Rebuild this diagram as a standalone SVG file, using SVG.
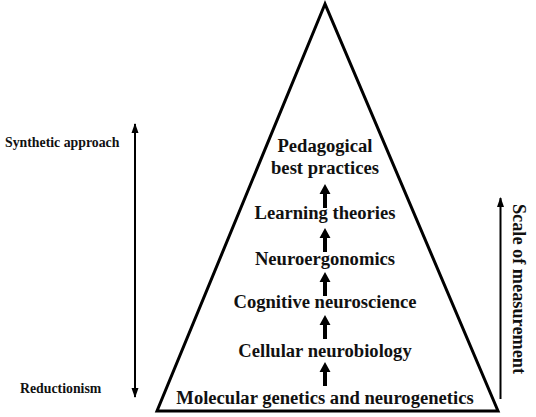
<svg xmlns="http://www.w3.org/2000/svg" width="536" height="417" viewBox="0 0 536 417">
<style>
.lbl{font-family:"Liberation Serif","DejaVu Serif",serif;font-weight:bold;fill:#111;text-anchor:middle;font-size:18.6px}
.side{font-family:"Liberation Serif","DejaVu Serif",serif;font-weight:bold;fill:#111;font-size:13.8px}
.thin{stroke:#000;stroke-width:2;fill:none}
.fat{fill:#000}
</style>
<defs>
<marker id="ah" viewBox="0 0 10 10" refX="9" refY="5" markerWidth="5" markerHeight="5" orient="auto-start-reverse" markerUnits="strokeWidth">
<path d="M0,1.5 L10,5 L0,8.5 z" fill="#000"/>
</marker>
<path id="fatArrow" d="M-2,0 L-2,-14 L-5.5,-14 L0,-24 L5.5,-14 L2,-14 L2,0 z"/>
</defs>
<g id="pyramid">
<polygon points="325,4 157,411 498,411" fill="#fff" stroke="#000" stroke-width="3" stroke-linejoin="miter"/>
</g>
<g id="n1"><text class="lbl" x="325" y="152">Pedagogical</text><text class="lbl" x="325" y="174">best practices</text></g>
<g id="n2"><text class="lbl" x="325" y="219">Learning theories</text></g>
<g id="n3"><text class="lbl" x="325" y="265">Neuroergonomics</text></g>
<g id="n4"><text class="lbl" x="325" y="308">Cognitive neuroscience</text></g>
<g id="n5"><text class="lbl" x="325" y="357">Cellular neurobiology</text></g>
<g id="n6"><text class="lbl" x="325" y="404">Molecular genetics and neurogenetics</text></g>
<g id="left-labels">
<text class="side" x="5" y="147">Synthetic approach</text>
<text class="side" x="20" y="393">Reductionism</text>
</g>
<g id="scale-label">
<text transform="translate(513,289) rotate(90)" style="font-family:'Liberation Serif','DejaVu Serif',serif;font-weight:bold;fill:#111;font-size:18.3px;text-anchor:middle">Scale of measurement</text>
</g>
<g id="connectors">
<line class="thin" x1="135" y1="124" x2="135" y2="397" marker-start="url(#ah)" marker-end="url(#ah)"/>
<line class="thin" x1="500.5" y1="399" x2="500.5" y2="198" marker-end="url(#ah)"/>
<use href="#fatArrow" x="325" y="208" class="fat"/>
<use href="#fatArrow" x="325" y="252" class="fat"/>
<use href="#fatArrow" x="325" y="296" class="fat"/>
<use href="#fatArrow" x="325" y="339" class="fat"/>
<use href="#fatArrow" x="325" y="386" class="fat"/>
</g>
</svg>
